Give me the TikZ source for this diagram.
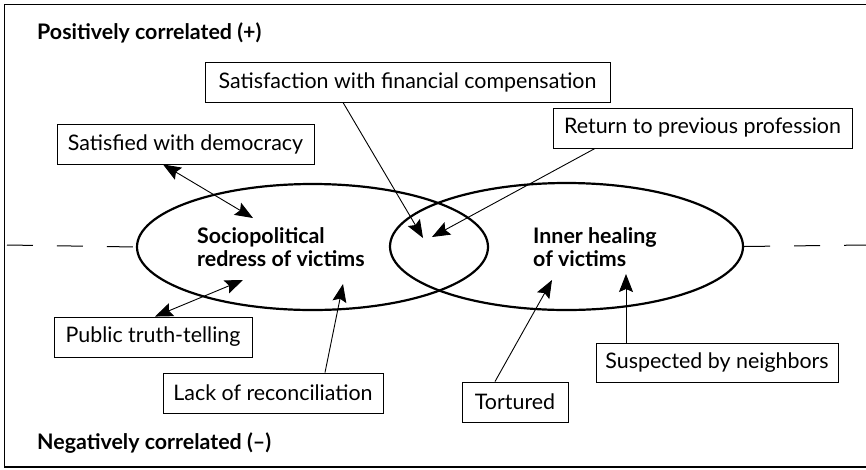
\documentclass[tikz,border=0pt]{standalone}
\usepackage{fontspec}
\setmainfont{Lato}
\usetikzlibrary{arrows.meta,shapes.geometric}
\begin{document}
\begin{tikzpicture}[x=1pt,y=-1pt,
  every node/.style={font=\fontsize{21.4}{24}\selectfont},
  box/.style={draw,line width=0.9pt,minimum height=40pt,inner sep=0pt,anchor=center},
  oval/.style={draw,ellipse,line width=2.2pt,inner sep=0pt},
  lbl/.style={font=\fontsize{21.4}{23}\selectfont\bfseries,align=left,inner sep=0pt},
  tip/.tip={Stealth[length=18pt,width=14pt,inset=3pt]},
  con/.style={line width=0.9pt,-tip},
  dcon/.style={line width=0.9pt,tip-tip},
  sep/.style={line width=1pt,dash pattern=on 26pt off 24pt}]
\useasboundingbox (0,0) rectangle (866,469);
% frame
\coordinate (tl) at (4,4);
\coordinate (tr) at (866,4);
\coordinate (bl) at (4,467);
\coordinate (br) at (866,467);
\draw[line width=1pt] (tr) -- (tl) -- (bl);
\draw[line width=1.6pt] (bl) -- (br);
% ellipses
\node[oval,minimum width=351pt,minimum height=126pt] (soc) at (312.5,247) {};
\node[oval,minimum width=353pt,minimum height=127pt] (inn) at (566.5,246.5) {};
% separator
\coordinate (sl) at (7,245);
\coordinate (sr) at (866,245);
\draw[sep] (sl) -- (soc.west);
\draw[sep] (inn.east) -- (sr);
% headings
\node[lbl,anchor=west] (pos) at (37,33) {Positively correlated (+)};
\node[lbl,anchor=west] (neg) at (37,443) {Negatively correlated (–)};
% ellipse labels
\node[lbl,anchor=west] (socl) at (197,247) {Sociopolitical\\redress of victims};
\node[lbl,anchor=west] (innl) at (533,247) {Inner healing\\of victims};
% boxes
\node[box,minimum width=405pt] (sfc) at (407.5,82) {Satisfaction with financial compensation};
\node[box,minimum width=299pt] (ret) at (702.5,128) {Return to previous profession};
\node[box,minimum width=257pt] (dem) at (185.5,144) {Satisfied with democracy};
\node[box,minimum width=198pt] (pub) at (153,337) {Public truth-telling};
\node[box,minimum width=220pt] (lack) at (273,393) {Lack of reconciliation};
\node[box,minimum width=106pt] (tor) at (515,402) {Tortured};
\node[box,minimum width=242pt,minimum height=39pt] (sus) at (717,362.5) {Suspected by neighbors};
% arrow tips
\coordinate (tsfc) at (423,238);
\coordinate (tret) at (432,237);
\coordinate (tdem) at (253,218);
\coordinate (tpub) at (243,280);
\coordinate (tlack) at (343,284);
\coordinate (ttor) at (552,280);
\coordinate (tsus) at (626,274);
% connectors
\draw[con] ([xshift=-64.5pt]sfc.south) -- (tsfc);
\draw[con] ([xshift=-107.5pt]ret.south) -- (tret);
\draw[dcon] ([xshift=-22.5pt]dem.south) -- (tdem);
\draw[dcon] ([xshift=2pt]pub.north) -- (tpub);
\draw[con] ([xshift=52pt]lack.north) -- (tlack);
\draw[con] ([xshift=-20pt]tor.north) -- (ttor);
\draw[con] ([xshift=-91pt]sus.north) -- (tsus);
\end{tikzpicture}
\end{document}
